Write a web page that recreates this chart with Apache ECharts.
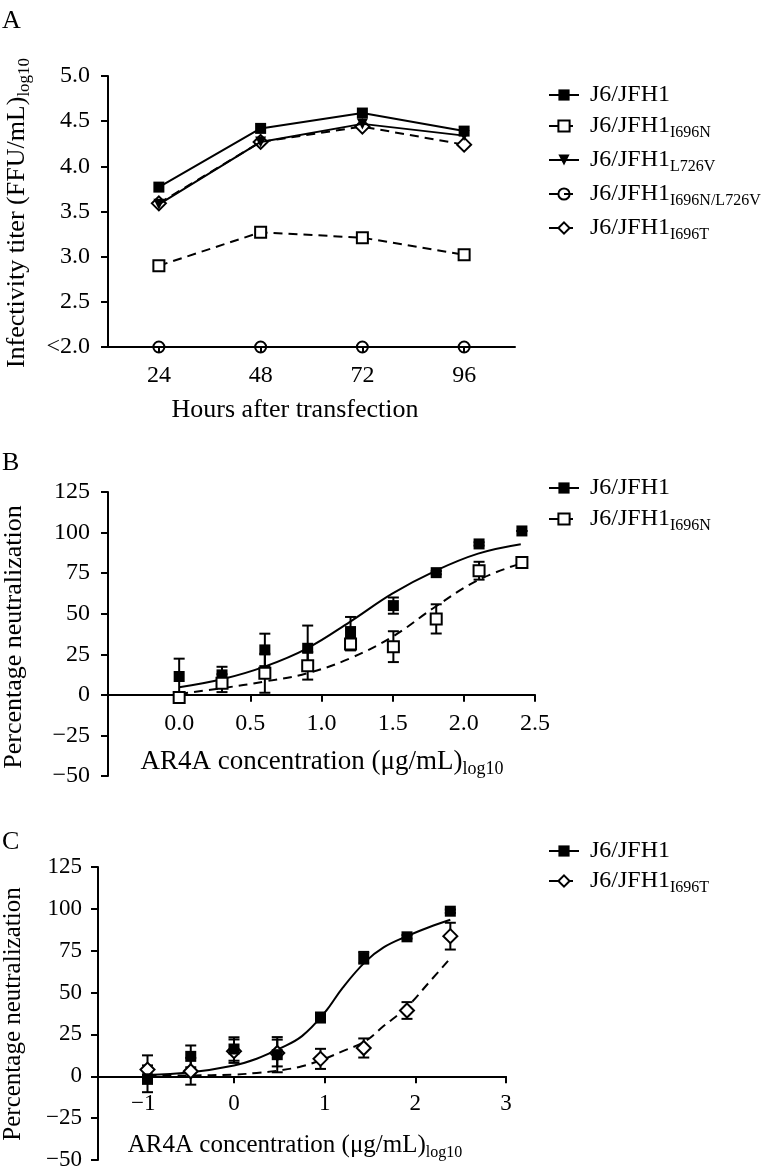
<!DOCTYPE html>
<html><head><meta charset="utf-8">
<script src="https://cdn.jsdelivr.net/npm/echarts@6/dist/echarts.min.js"></script>
<style>html,body{margin:0;padding:0;background:#fff}#c{width:776px;height:1175px}</style>
</head><body><div id="c"></div>
<script>
// ---------- Panel A ----------
const hours = ['24', '48', '72', '96'];
const aJ6 = [3.77, 4.42, 4.59, 4.39];
const aI696N = [2.90, 3.27, 3.21, 3.02];
const aL726V = [3.58, 4.27, 4.47, 4.34];
const aI696NL726V = [2.0, 2.0, 2.0, 2.0];
const aI696T = [3.59, 4.27, 4.44, 4.24];
const aYTicks = [2, 2.5, 3, 3.5, 4, 4.5, 5];
const aYLabels = ['<2.0', '2.5', '3.0', '3.5', '4.0', '4.5', '5.0'];

// ---------- Panel B ----------
const bX = [0, 0.301, 0.602, 0.903, 1.204, 1.505, 1.806, 2.107, 2.408];
const bJ6 = [11.3, 12.3, 27.7, 28.7, 39, 55, 75.3, 93, 101];
const bJ6Err = [11, 5, 10, 14, 9, 5, 1, 1, 0];
const bI696N = [-1.7, 7.2, 13.3, 17.9, 31.4, 29.7, 46.8, 76.5, 81.5];
const bI696NErr = [2, 5.5, 12, 8.5, 4, 9.5, 9, 5.5, 1];
const bFitX = [0, 0.3, 0.6, 0.9, 1.2, 1.5, 1.8, 2.1, 2.4];
const bJ6Fit = [4.7, 9.6, 17.4, 28.7, 45, 62.5, 76.4, 87, 92.8];
const bI696NFit = [0.6, 4.1, 8.2, 13.3, 22.5, 35.9, 54.3, 70.7, 81];
const bXTicks = [0, 0.5, 1, 1.5, 2, 2.5];
const bXLabels = ['0.0', '0.5', '1.0', '1.5', '2.0', '2.5'];

// ---------- Panel C ----------
const cX = [-0.954, -0.477, 0, 0.477, 0.954, 1.431, 1.908, 2.386];
const cJ6 = [-1.5, 11.9, 16.3, 12.9, 35.1, 70.8, 83.3, 98.6];
const cJ6Err = [8, 6.5, 7, 10.5, 3, 3.5, 1, 1];
const cI696T = [4, 3, 15, 13.9, 10.4, 16.9, 39.3, 83.7];
const cI696TErr = [8.5, 8, 7, 8, 6, 5.7, 5, 8];
const cFitX = [-0.954, -0.5, 0, 0.25, 0.5, 0.75, 1.0, 1.2, 1.45, 1.65, 1.9, 2.15, 2.386];
const cJ6Fit = [0.8, 2.2, 6.5, 10.5, 16.5, 24, 38, 53, 68.5, 77, 83.5, 89, 93.5];
const cI696TFit = [0.3, 0.5, 1, 2, 3.5, 6, 10.5, 15, 21, 30, 41, 56, 70.5];
const cXTicks = [-1, 0, 1, 2, 3];
const cXLabels = ['\u22121', '0', '1', '2', '3'];

// shared neutralization y axis
const nYTicks = [-50, -25, 0, 25, 50, 75, 100, 125];
const nYLabels = ['\u221250', '\u221225', '0', '25', '50', '75', '100', '125'];

// ---------- styling ----------
const FONT = 'Liberation Serif';
const BLK = '#000';
const AX = { color: BLK, width: 2 };
const DASH = [9, 6];
const GRIDS = [
  { left: 108, top: 76, width: 407, height: 271 },
  { left: 108, top: 492, width: 427, height: 284 },
  { left: 98, top: 867, width: 408, height: 293 }
];
const N_MIN = -50, N_MAX = 125;

function lab(ticks, labels) {
  return v => { const i = ticks.findIndex(t => Math.abs(t - v) < 1e-6); return i < 0 ? '' : labels[i]; };
}
function yAxisCfg(gi, min, max, interval, ticks, labels, margin, fs) {
  return {
    type: 'value', gridIndex: gi, min, max, interval,
    axisLine: { show: true, onZero: false, lineStyle: AX },
    axisTick: { show: true, length: 7, lineStyle: AX },
    axisLabel: { color: BLK, fontFamily: FONT, fontSize: fs, margin, formatter: lab(ticks, labels) },
    splitLine: { show: false }
  };
}
// x axis drawn at y = 0 of the neutralization scale (shift from grid bottom)
function xValAxis(gi, min, max, ticks, labels, fs, margin) {
  const h = GRIDS[gi].height;
  return {
    type: 'value', gridIndex: gi, min, max, position: 'bottom',
    offset: -h * (0 - N_MIN) / (N_MAX - N_MIN),
    axisLine: { show: true, onZero: false, lineStyle: AX },
    axisTick: { show: true, length: 7, lineStyle: AX, customValues: ticks },
    axisLabel: { color: BLK, fontFamily: FONT, fontSize: fs, margin, customValues: ticks, formatter: lab(ticks, labels) },
    splitLine: { show: false }
  };
}
function errSeries(name, gi, xs, ys, es) {
  return {
    type: 'custom', name, xAxisIndex: gi, yAxisIndex: gi, z: 2, silent: true,
    encode: { x: 0, y: [1, 2] },
    data: xs.map((x, i) => [x, ys[i] - es[i], ys[i] + es[i]]),
    renderItem(params, api) {
      const x = api.value(0);
      const lo = api.coord([x, api.value(1)]);
      const hi = api.coord([x, api.value(2)]);
      const w = 5.5, st = { stroke: BLK, lineWidth: 2 };
      return {
        type: 'group', children: [
          { type: 'line', shape: { x1: lo[0], y1: lo[1], x2: hi[0], y2: hi[1] }, style: st },
          { type: 'line', shape: { x1: lo[0] - w, y1: lo[1], x2: lo[0] + w, y2: lo[1] }, style: st },
          { type: 'line', shape: { x1: hi[0] - w, y1: hi[1], x2: hi[0] + w, y2: hi[1] }, style: st }
        ]
      };
    }
  };
}
function fitSeries(name, gi, xs, ys, dashed) {
  return {
    type: 'line', name, xAxisIndex: gi, yAxisIndex: gi, z: 3, smooth: 0.4, showSymbol: false, symbol: 'none',
    silent: true, data: xs.map((x, i) => [x, ys[i]]),
    lineStyle: { color: BLK, width: 2, type: dashed ? DASH : 'solid' }
  };
}
const FILLED_SQ = { symbol: 'rect', symbolSize: 11, itemStyle: { color: BLK, opacity: 1 } };
const OPEN_SQ = { symbol: 'rect', symbolSize: 11, itemStyle: { color: '#fff', borderColor: BLK, borderWidth: 2, opacity: 1 } };
const OPEN_DIA = { symbol: 'diamond', symbolSize: 14, itemStyle: { color: '#fff', borderColor: BLK, borderWidth: 2, opacity: 1 } };
function ptSeries(name, gi, xs, ys, sym, z) {
  return Object.assign({
    type: 'scatter', name, xAxisIndex: gi, yAxisIndex: gi, z: z, silent: true,
    data: xs.map((x, i) => [x, ys[i]])
  }, sym);
}
function aLine(name, ys, sym, dashed, z) {
  return Object.assign({
    type: 'line', name, xAxisIndex: 0, yAxisIndex: 0, z: z, showSymbol: true, silent: true,
    data: ys, lineStyle: { color: BLK, width: 2, type: dashed ? DASH : 'solid' }
  }, sym);
}

const legendRich = {
  m: { fontFamily: FONT, fontSize: 24, lineHeight: 30, color: BLK, padding: [0, 0, 0, 6] },
  s: { fontFamily: FONT, fontSize: 16, lineHeight: 16, color: BLK, verticalAlign: 'bottom' }
};
function legendFmt(name) {
  const p = name.split('_');
  return p[1] ? '{m|' + p[0] + '}{s|' + p[1] + '}' : '{m|' + p[0] + '}';
}
function legendCfg(top, names, gap) {
  return {
    orient: 'vertical', left: 548, top, padding: 0, itemWidth: 30, itemHeight: 14, itemGap: gap,
    selectedMode: false, data: names, formatter: legendFmt,
    textStyle: { color: BLK, fontFamily: FONT, fontSize: 24, rich: legendRich }
  };
}
function titleText(x, y, main, sub, fs, rot) {
  const rich = {
    m: { fontFamily: FONT, fontSize: fs, lineHeight: fs + 6, fill: BLK },
    s: { fontFamily: FONT, fontSize: Math.round(fs * 0.65), lineHeight: Math.round(fs * 0.65), fill: BLK, verticalAlign: 'bottom' }
  };
  return {
    type: 'text', x, y, rotation: rot ? Math.PI / 2 : 0, silent: true,
    style: { text: '{m|' + main + '}' + (sub ? '{s|' + sub + '}' : ''), rich, align: 'center', verticalAlign: 'middle', fill: BLK }
  };
}
function letter(x, y, t) {
  return { type: 'text', x, y, silent: true, style: { text: t, fontFamily: FONT, fontSize: 26, fill: BLK, align: 'left', verticalAlign: 'middle' } };
}

const option = {
  backgroundColor: '#fff',
  animation: false,
  grid: GRIDS,
  xAxis: [
    {
      type: 'category', gridIndex: 0, data: hours, boundaryGap: true,
      axisLine: { show: true, onZero: false, lineStyle: AX },
      axisTick: { show: true, alignWithLabel: true, length: 5, lineStyle: AX },
      axisLabel: { color: BLK, fontFamily: FONT, fontSize: 24, margin: 17 },
      splitLine: { show: false }
    },
    xValAxis(1, -0.5, 2.5, bXTicks, bXLabels, 24, 17),
    xValAxis(2, -1.5, 3, cXTicks, cXLabels, 23, 16)
  ],
  yAxis: [
    yAxisCfg(0, 2, 5, 0.5, aYTicks, aYLabels, 18, 24),
    yAxisCfg(1, N_MIN, N_MAX, 25, nYTicks, nYLabels, 18, 24),
    yAxisCfg(2, N_MIN, N_MAX, 25, nYTicks, nYLabels, 16, 23)
  ],
  legend: [
    legendCfg(83, ['J6/JFH1', 'J6/JFH1_I696N', 'J6/JFH1_L726V', 'J6/JFH1_I696N/L726V', 'J6/JFH1_I696T'], 7),
    legendCfg(476, ['J6/JFH1', 'J6/JFH1_I696N'], 7),
    legendCfg(839, ['J6/JFH1', 'J6/JFH1_I696T'], 6)
  ],
  series: [
    aLine('J6/JFH1', aJ6, FILLED_SQ, false, 5),
    aLine('J6/JFH1_I696N', aI696N, OPEN_SQ, true, 4),
    aLine('J6/JFH1_I696N/L726V', aI696NL726V, { symbol: 'circle', symbolSize: 11, itemStyle: { color: 'rgba(255,255,255,0)', borderColor: BLK, borderWidth: 2 } }, true, 4),
    aLine('J6/JFH1_I696T', aI696T, OPEN_DIA, true, 3),
    aLine('J6/JFH1_L726V', aL726V, { symbol: 'triangle', symbolRotate: 180, symbolSize: 11, itemStyle: { color: BLK } }, false, 4),

    errSeries('errB1', 1, bX, bJ6, bJ6Err),
    errSeries('errB2', 1, bX, bI696N, bI696NErr),
    fitSeries('fitB1', 1, bFitX, bJ6Fit, false),
    fitSeries('fitB2', 1, bFitX, bI696NFit, true),
    ptSeries('J6/JFH1', 1, bX, bJ6, FILLED_SQ, 10),
    ptSeries('J6/JFH1_I696N', 1, bX, bI696N, OPEN_SQ, 11),

    errSeries('errC1', 2, cX, cJ6, cJ6Err),
    errSeries('errC2', 2, cX, cI696T, cI696TErr),
    fitSeries('fitC1', 2, cFitX, cJ6Fit, false),
    fitSeries('fitC2', 2, cFitX, cI696TFit, true),
    ptSeries('J6/JFH1_I696T', 2, cX, cI696T, OPEN_DIA, 10),
    ptSeries('J6/JFH1', 2, cX, cJ6, FILLED_SQ, 11)
  ],
  graphic: [
    letter(2, 21, 'A'),
    letter(2, 463, 'B'),
    letter(2, 842, 'C'),
    titleText(17, 213, 'Infectivity titer (FFU/mL)', 'log10', 26, true),
    titleText(295, 410, 'Hours after transfection', '', 26, false),
    titleText(14, 637, 'Percentage neutralization', '', 26, true),
    titleText(322, 762, 'AR4A concentration (\u03bcg/mL)', 'log10', 27, false),
    titleText(13, 1014, 'Percentage neutralization', '', 25, true),
    titleText(295, 1145, 'AR4A concentration (\u03bcg/mL)', 'log10', 25, false)
  ]
};
const chart = echarts.init(document.getElementById('c'), null, { renderer: 'canvas' });
chart.setOption(option);
</script>
</body></html>
